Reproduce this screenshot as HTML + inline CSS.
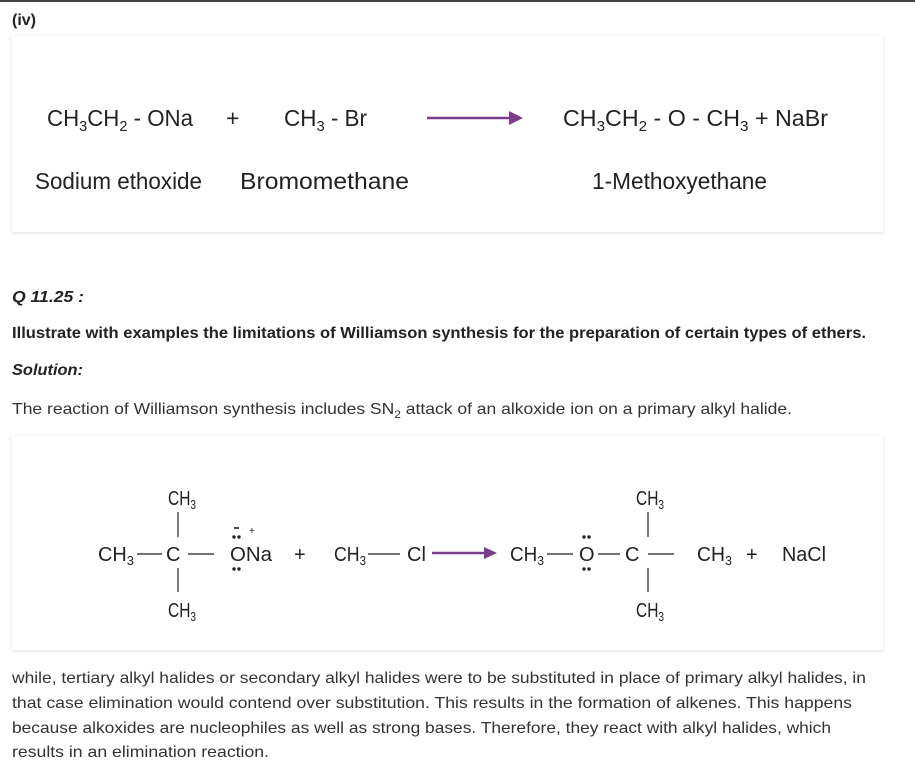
<!DOCTYPE html>
<html><head><meta charset="utf-8"><style>
html,body{margin:0;padding:0;background:#fff;width:915px;height:775px;overflow:hidden}
svg{display:block}
.n{font-family:"Liberation Sans Narrow","Liberation Sans",sans-serif;fill:#222}
.r{font-family:"Liberation Sans",sans-serif;fill:#333;font-size:16px}
</style></head><body>
<svg width="915" height="775" viewBox="0 0 915 775">
<defs>
<filter id="sh" x="-5%" y="-10%" width="110%" height="120%"><feDropShadow dx="0" dy="1" stdDeviation="2" flood-color="#000" flood-opacity="0.12"/></filter>
</defs>
<rect x="0" y="0" width="915" height="2" fill="#444"/>
<rect x="12" y="36" width="871" height="196" fill="#fff" filter="url(#sh)"/>
<rect x="12" y="436" width="871" height="214" fill="#fff" filter="url(#sh)"/>
<text x="12" y="25" class="n" style="font-size:16px;font-weight:bold" textLength="24" lengthAdjust="spacingAndGlyphs">(iv)</text>

<g class="n" style="font-size:23px">
<text x="47" y="126" textLength="146" lengthAdjust="spacingAndGlyphs">CH<tspan font-size="15" dy="5">3</tspan><tspan dy="-5">CH</tspan><tspan font-size="15" dy="5">2</tspan><tspan dy="-5"> - ONa</tspan></text>
<text x="226" y="126">+</text>
<text x="284" y="126" textLength="83" lengthAdjust="spacingAndGlyphs">CH<tspan font-size="15" dy="5">3</tspan><tspan dy="-5"> - Br</tspan></text>
<text x="563" y="126" textLength="265" lengthAdjust="spacingAndGlyphs">CH<tspan font-size="15" dy="5">3</tspan><tspan dy="-5">CH</tspan><tspan font-size="15" dy="5">2</tspan><tspan dy="-5"> - O - CH</tspan><tspan font-size="15" dy="5">3</tspan><tspan dy="-5"> + NaBr</tspan></text>
<text x="35" y="189" textLength="167" lengthAdjust="spacingAndGlyphs">Sodium ethoxide</text>
<text x="240" y="189" textLength="169" lengthAdjust="spacingAndGlyphs">Bromomethane</text>
<text x="592" y="189" textLength="175" lengthAdjust="spacingAndGlyphs">1-Methoxyethane</text>
</g>
<line x1="427" y1="118" x2="512" y2="118" stroke="#7a3d8c" stroke-width="2.5"/>
<polygon points="509,111 523,118 509,125" fill="#7a3d8c"/>

<text x="12" y="302" class="r" style="font-weight:bold;font-style:italic;fill:#222" textLength="72" lengthAdjust="spacingAndGlyphs">Q 11.25 :</text>
<text x="12" y="338" class="r" style="font-weight:bold;fill:#222" textLength="854" lengthAdjust="spacingAndGlyphs">Illustrate with examples the limitations of Williamson synthesis for the preparation of certain types of ethers.</text>
<text x="12" y="375" class="r" style="font-weight:bold;font-style:italic;fill:#222" textLength="71" lengthAdjust="spacingAndGlyphs">Solution:</text>
<text x="12" y="414" class="r" textLength="780" lengthAdjust="spacingAndGlyphs">The reaction of Williamson synthesis includes SN<tspan font-size="11" dy="4">2</tspan><tspan dy="-4"> attack of an alkoxide ion on a primary alkyl halide.</tspan></text>

<g class="n" style="font-size:20px">
<text x="168" y="505" textLength="28" lengthAdjust="spacingAndGlyphs">CH<tspan font-size="13" dy="4">3</tspan></text>
<text x="168" y="617" textLength="28" lengthAdjust="spacingAndGlyphs">CH<tspan font-size="13" dy="4">3</tspan></text>
<text x="98" y="561" textLength="36" lengthAdjust="spacingAndGlyphs">CH<tspan font-size="13" dy="4">3</tspan></text>
<text x="166" y="561">C</text>
<text x="230" y="561" textLength="42" lengthAdjust="spacingAndGlyphs">ONa</text>
<text x="294" y="561">+</text>
<text x="334" y="561" textLength="32" lengthAdjust="spacingAndGlyphs">CH<tspan font-size="13" dy="4">3</tspan></text>
<text x="407" y="561">Cl</text>
<text x="510" y="561" textLength="34" lengthAdjust="spacingAndGlyphs">CH<tspan font-size="13" dy="4">3</tspan></text>
<text x="579" y="561">O</text>
<text x="625" y="561">C</text>
<text x="697" y="561" textLength="35" lengthAdjust="spacingAndGlyphs">CH<tspan font-size="13" dy="4">3</tspan></text>
<text x="746" y="561">+</text>
<text x="782" y="561" textLength="44" lengthAdjust="spacingAndGlyphs">NaCl</text>
<text x="636" y="505" textLength="28" lengthAdjust="spacingAndGlyphs">CH<tspan font-size="13" dy="4">3</tspan></text>
<text x="636" y="617" textLength="28" lengthAdjust="spacingAndGlyphs">CH<tspan font-size="13" dy="4">3</tspan></text>
<text x="249" y="534" font-size="10">+</text>
</g>
<g stroke="#222" stroke-width="1.2">
<line x1="178" y1="512" x2="178" y2="537"/><line x1="178" y1="568" x2="178" y2="592"/>
<line x1="137" y1="554" x2="162" y2="554"/><line x1="188" y1="554" x2="214" y2="554"/>
<line x1="368" y1="554" x2="400" y2="554"/>
<line x1="547" y1="554" x2="573" y2="554"/><line x1="598" y1="554" x2="620" y2="554"/>
<line x1="648" y1="554" x2="674" y2="554"/>
<line x1="648" y1="512" x2="648" y2="537"/><line x1="648" y1="568" x2="648" y2="592"/>
<line x1="234" y1="528" x2="239" y2="528" stroke-width="1.6"/>
</g>
<g fill="#222">
<circle cx="234" cy="537" r="1.7"/><circle cx="239" cy="537" r="1.7"/>
<circle cx="234" cy="569" r="1.7"/><circle cx="239" cy="569" r="1.7"/>
<circle cx="584" cy="537" r="1.7"/><circle cx="589" cy="537" r="1.7"/>
<circle cx="584" cy="569" r="1.7"/><circle cx="589" cy="569" r="1.7"/>
</g>
<line x1="432" y1="553" x2="486" y2="553" stroke="#7a3d8c" stroke-width="2.5"/>
<polygon points="484,547 497,553 484,559" fill="#7a3d8c"/>

<g class="r">
<text x="12" y="683" textLength="854" lengthAdjust="spacingAndGlyphs">while, tertiary alkyl halides or secondary alkyl halides were to be substituted in place of primary alkyl halides, in</text>
<text x="12" y="708" textLength="840" lengthAdjust="spacingAndGlyphs">that case elimination would contend over substitution. This results in the formation of alkenes. This happens</text>
<text x="12" y="733" textLength="819" lengthAdjust="spacingAndGlyphs">because alkoxides are nucleophiles as well as strong bases. Therefore, they react with alkyl halides, which</text>
<text x="12" y="757" textLength="257" lengthAdjust="spacingAndGlyphs">results in an elimination reaction.</text>
</g>
</svg>
</body></html>
